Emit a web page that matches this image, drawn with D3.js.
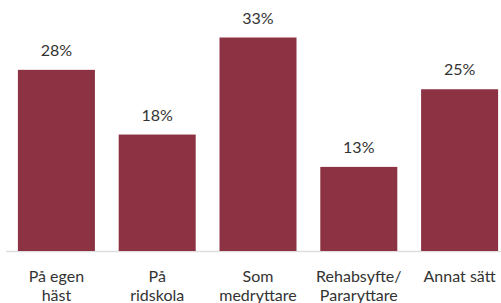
<!DOCTYPE html>
<html>
<head>
<meta charset="utf-8">
<script src="https://cdn.jsdelivr.net/npm/d3@7"></script>
<style>
  body { margin: 0; background: #fff; }
  svg { display: block; }
</style>
</head>
<body>
<div></div>
<script>
const categories = ["På egen häst", "På ridskola", "Som medryttare", "Rehabsyfte/ Pararyttare", "Annat sätt"];
const labelLines = [["På egen", "häst"], ["På", "ridskola"], ["Som", "medryttare"], ["Rehabsyfte/", "Pararyttare"], ["Annat sätt"]];
const values = [28, 18, 33, 13, 25];

const width = 501, height = 303;
const baseY = 251;

const svg = d3.select("div").append("svg")
    .attr("width", width)
    .attr("height", height);

const x = d3.scaleBand()
    .domain(categories)
    .range([6, 510])
    .paddingInner(0.236)
    .paddingOuter(0.118);

const y = d3.scaleLinear()
    .domain([0, 33])
    .range([baseY, 37.5]);

// baseline
svg.append("line")
    .attr("x1", 6).attr("x2", 501)
    .attr("y1", baseY + 0.5).attr("y2", baseY + 0.5)
    .attr("stroke", "#dedede")
    .attr("stroke-width", 1.5);

svg.selectAll(".bar")
    .data(values)
    .join("rect")
    .attr("class", "bar")
    .attr("x", (d, i) => x(categories[i]))
    .attr("width", x.bandwidth())
    .attr("y", d => y(d))
    .attr("height", d => baseY - y(d))
    .attr("fill", "#8c3243");

svg.selectAll(".val")
    .data(values)
    .join("text")
    .attr("class", "val")
    .attr("x", (d, i) => x(categories[i]) + x.bandwidth() / 2)
    .attr("y", d => y(d) - 14)
    .attr("text-anchor", "middle")
    .style("font-family", "Lato, sans-serif")
    .style("font-size", "16px")
    .style("fill", "#333")
    .text(d => d + "%");

const lab = svg.selectAll(".lab")
    .data(labelLines)
    .join("text")
    .attr("class", "lab")
    .attr("text-anchor", "middle")
    .style("font-family", "Lato, sans-serif")
    .style("font-size", "16px")
    .style("fill", "#333");

lab.selectAll("tspan")
    .data((d, i) => d.map(t => ({ t, cx: x(categories[i]) + x.bandwidth() / 2 })))
    .join("tspan")
    .attr("x", d => d.cx)
    .attr("y", (d, j) => 282 + j * 18.5)
    .text(d => d.t);
</script>
</body>
</html>
